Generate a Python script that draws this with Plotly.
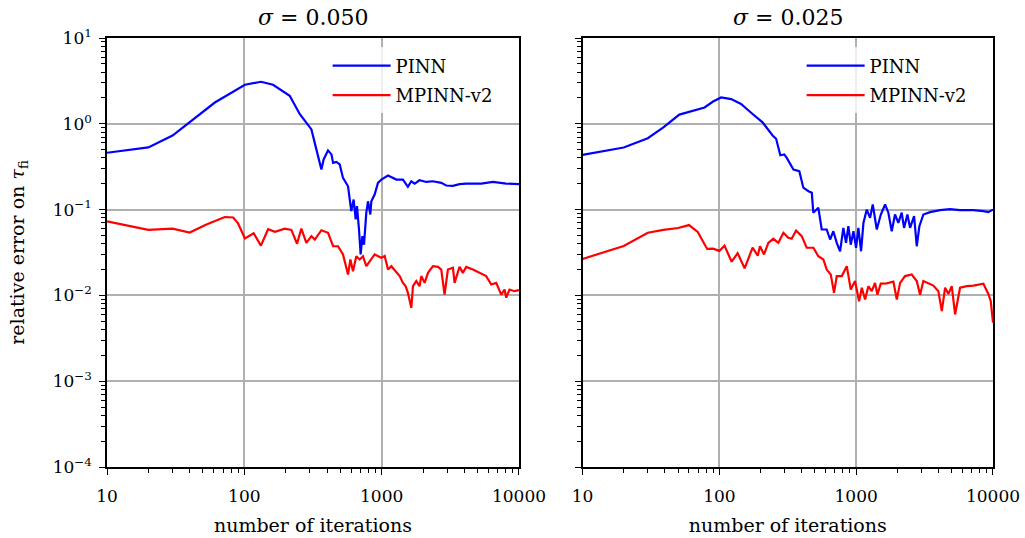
import plotly.graph_objects as go
from plotly.subplots import make_subplots

# ---------------- data ----------------
it_pinn_a = [10, 20, 30, 40, 61, 101, 132, 162, 214, 253, 285, 308, 335, 364, 378, 407, 431, 443,
             468, 495, 523, 569, 601, 625, 647, 661, 684, 703, 724, 744, 773, 795, 827, 841, 889,
             940, 995, 1112, 1279, 1429, 1553, 1644, 1738, 1888, 2113, 2362, 2717, 2953, 3303,
             3690, 4128, 5309, 6457, 8071, 10000]
err_pinn_a = [0.46, 0.53, 0.73, 1.04, 1.77, 2.85, 3.09, 2.85, 2.12, 1.30, 1.0, 0.86, 0.50, 0.293,
              0.384, 0.49, 0.44, 0.35, 0.36, 0.336, 0.234, 0.187, 0.096, 0.131, 0.0767, 0.11,
              0.0586, 0.030, 0.049, 0.039, 0.092, 0.125, 0.0877, 0.125, 0.15, 0.205, 0.224, 0.249,
              0.224, 0.224, 0.1845, 0.214, 0.201, 0.22, 0.21, 0.214, 0.205, 0.191, 0.189, 0.198,
              0.201, 0.201, 0.21, 0.201, 0.198]

it_mpinn_a = [10, 20, 30, 40, 53, 72, 83, 90, 101, 117, 132, 149, 167, 197, 220, 242, 260, 283,
              308, 326, 364, 407, 443, 481, 523, 569, 592, 618, 654, 692, 731, 773, 889, 995, 1052,
              1112, 1176, 1279, 1352, 1429, 1496, 1553, 1644, 1690, 1787, 1888, 1944, 2055, 2174,
              2362, 2570, 2717, 2871, 3036, 3303, 3396, 3690, 3902, 4128, 4617, 5309, 5770, 6277,
              6824, 7423, 7850, 8071, 8530, 9270, 10000]
err_mpinn_a = [0.073, 0.058, 0.060, 0.054, 0.067, 0.082, 0.081, 0.069, 0.046, 0.053, 0.038, 0.059,
               0.055, 0.060, 0.058, 0.040, 0.060, 0.041, 0.049, 0.0448, 0.0575, 0.0537, 0.0374,
               0.0374, 0.030, 0.0175, 0.0262, 0.0191, 0.0286, 0.0262, 0.0286, 0.0219, 0.030,
               0.0274, 0.0288, 0.020, 0.0219, 0.0183, 0.0168, 0.014, 0.0128, 0.0107, 0.00716,
               0.0128, 0.0147, 0.0128, 0.0168, 0.014, 0.0183, 0.0219, 0.0215, 0.020, 0.0102, 0.020,
               0.021, 0.014, 0.0215, 0.0183, 0.0215, 0.020, 0.018, 0.0168, 0.0134, 0.014, 0.0102,
               0.0117, 0.0094, 0.0117, 0.0112, 0.0115]

it_pinn_b = [10, 20, 30, 39, 51, 62, 78, 90, 103, 122, 144, 175, 207, 245, 260, 279, 298, 311, 348,
             384, 411, 448, 474, 486, 529, 560, 609, 645, 681, 721, 763, 806, 843, 877, 913, 955,
             998, 1038, 1086, 1130, 1195, 1264, 1322, 1415, 1514, 1627, 1719, 1819, 1923, 2033,
             2151, 2238, 2368, 2478, 2650, 2772, 2897, 3099, 3467, 4101, 4851, 5738, 7187, 8508,
             9250, 10000]
err_pinn_b = [0.435, 0.53, 0.68, 0.91, 1.28, 1.40, 1.55, 1.82, 2.03, 1.94, 1.70, 1.30, 1.04, 0.73,
              0.67, 0.43, 0.44, 0.40, 0.293, 0.28, 0.18, 0.164, 0.157, 0.092, 0.105, 0.0586,
              0.0586, 0.0448, 0.056, 0.041, 0.0327, 0.0612, 0.041, 0.064, 0.039, 0.056, 0.0359,
              0.0612, 0.0327, 0.070, 0.100, 0.080, 0.1146, 0.0586, 0.0877, 0.1146, 0.092, 0.056,
              0.0877, 0.070, 0.092, 0.0612, 0.0877, 0.0612, 0.0838, 0.0374, 0.064, 0.0877, 0.0933,
              0.0984, 0.101, 0.0984, 0.0984, 0.096, 0.0933, 0.100]

it_mpinn_b = [10, 20, 30, 39, 50, 60, 69.5, 81.5, 90, 100, 109, 123, 136, 153, 175, 191, 198, 212,
              228, 248, 270, 294, 319, 338, 364, 400, 435, 487, 529, 576, 609, 652, 689, 721, 785,
              854, 913, 981, 1050, 1099, 1162, 1228, 1300, 1374, 1429, 1513, 1675, 1871, 1981,
              2095, 2277, 2547, 2772, 2931, 3099, 3667, 3988, 4224, 4467, 4724, 4995, 5283, 5745,
              6430, 7190, 8508, 9250, 9630, 10000]
err_mpinn_b = [0.0266, 0.0376, 0.0537, 0.058, 0.061, 0.066, 0.055, 0.0348, 0.035, 0.033, 0.038,
               0.0247, 0.031, 0.0207, 0.036, 0.029, 0.0374, 0.030, 0.041, 0.0457, 0.041, 0.0537,
               0.0469, 0.0457, 0.057, 0.049, 0.0359, 0.0359, 0.0286, 0.0262, 0.020, 0.0175, 0.0107,
               0.0168, 0.0168, 0.0219, 0.0117, 0.0147, 0.00855, 0.0123, 0.00895, 0.0128, 0.0112,
               0.014, 0.0102, 0.0137, 0.0138, 0.0145, 0.00895, 0.014, 0.0168, 0.0175, 0.0147,
               0.0102, 0.0147, 0.013, 0.0112, 0.00655, 0.0123, 0.0104, 0.0128, 0.006, 0.0123,
               0.0128, 0.013, 0.0137, 0.0104, 0.00855, 0.0048]

titles = ["<i>σ</i> = 0.050", "<i>σ</i> = 0.025"]
series_names = ["PINN", "MPINN-v2"]
series_colors = ["#0000ff", "#ff0000"]
x_tickvals = [10, 100, 1000, 10000]
x_ticktext = ["10", "100", "1000", "10000"]
y_tickvals = [1e-4, 1e-3, 1e-2, 1e-1, 1, 10]
y_ticktext = ["10<sup>−4</sup>", "10<sup>−3</sup>", "10<sup>−2</sup>",
              "10<sup>−1</sup>", "10<sup>0</sup>", "10<sup>1</sup>"]

FONT = "DejaVu Serif"

fig = make_subplots(rows=1, cols=2, horizontal_spacing=0.07)

panels = [(it_pinn_a, err_pinn_a, it_mpinn_a, err_mpinn_a),
          (it_pinn_b, err_pinn_b, it_mpinn_b, err_mpinn_b)]
for i, (xp, yp, xm, ym) in enumerate(panels):
    leg = "legend" if i == 0 else "legend2"
    for name, color, xs, ys in [(series_names[0], series_colors[0], xp, yp),
                                (series_names[1], series_colors[1], xm, ym)]:
        fig.add_trace(go.Scatter(x=xs, y=ys, mode="lines", name=name,
                                 line=dict(color=color, width=2.2),
                                 legend=leg, legendgroup=f"{leg}{name}"),
                      row=1, col=i + 1)

minor_x = [m * 10 ** e for e in range(1, 4) for m in range(2, 10)]
minor_y = [m * 10.0 ** e for e in range(-4, 1) for m in range(2, 10)]

axis_common = dict(showline=True, linecolor="black", linewidth=1.6, mirror=True,
                   ticks="outside", ticklen=6, tickwidth=1.3, tickcolor="black",
                   showgrid=True, gridcolor="#b0b0b0", gridwidth=1.6, zeroline=False,
                   automargin=False,
                   tickfont=dict(family=FONT, size=17, color="black"))

dom = [[0, 0.465], [0.5367, 1.0]]
for i in range(2):
    xa = "xaxis" if i == 0 else "xaxis2"
    ya = "yaxis" if i == 0 else "yaxis2"
    fig.layout[xa].update(type="log", range=[1, 4], domain=dom[i],
                          tickmode="array", tickvals=x_tickvals, ticktext=x_ticktext,
                          ticklabelstandoff=7,
                          minor=dict(tickmode="array", tickvals=minor_x, ticks="outside",
                                     ticklen=4, tickwidth=1, tickcolor="black", showgrid=False),
                          title=dict(text="number of iterations",
                                     font=dict(family=FONT, size=19, color="black"),
                                     standoff=13),
                          **axis_common)
    fig.layout[ya].update(type="log", range=[-4, 1],
                          tickmode="array", tickvals=y_tickvals, ticktext=y_ticktext,
                          showticklabels=(i == 0), ticklabelstandoff=4,
                          minor=dict(tickmode="array", tickvals=minor_y, ticks="outside",
                                     ticklen=4, tickwidth=1, tickcolor="black", showgrid=False),
                          **axis_common)
fig.layout.yaxis.title = dict(text="relative error on <i>τ</i><sub>fi</sub>",
                              font=dict(family=FONT, size=19, color="black"), standoff=23)

for i in range(2):
    fig.add_annotation(text=titles[i], xref=("x domain" if i == 0 else "x2 domain"),
                       yref="paper", x=0.5, y=1.0, yshift=6, xanchor="center", yanchor="bottom",
                       showarrow=False, font=dict(family=FONT, size=22, color="black"))

legend_common = dict(bgcolor="rgba(255,255,255,0.8)", borderwidth=0,
                     font=dict(family=FONT, size=18, color="black"),
                     xanchor="left", yanchor="top", tracegroupgap=3, itemwidth=58)
fig.update_layout(
    legend=dict(x=0.249, y=0.978, **legend_common),
    legend2=dict(x=0.784, y=0.978, **legend_common),
    width=1025, height=538,
    margin=dict(l=107, r=32, t=38, b=71),
    paper_bgcolor="white", plot_bgcolor="white",
    font=dict(family=FONT, color="black"),
)

fig.write_html("out.html")
